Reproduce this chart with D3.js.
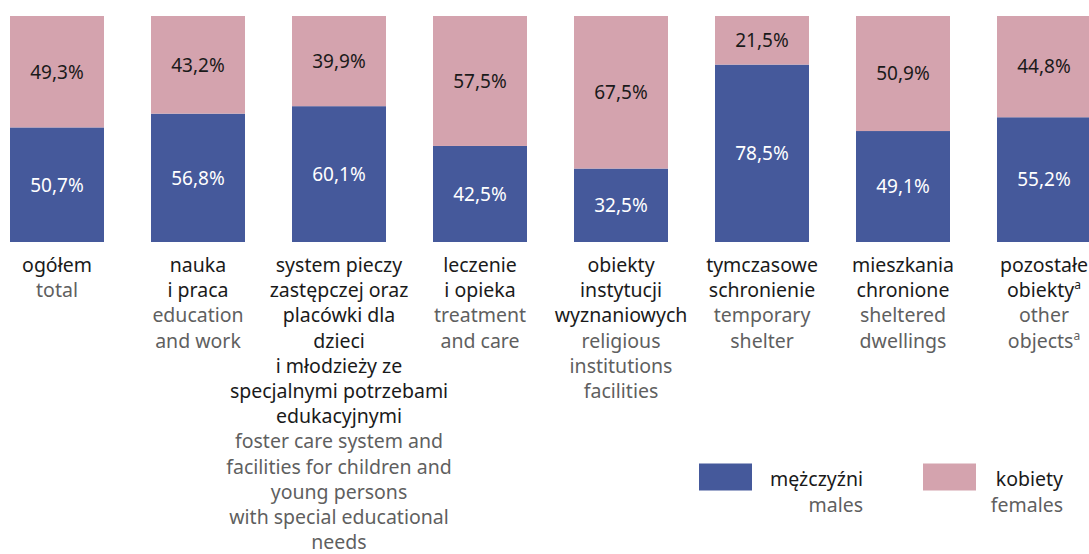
<!DOCTYPE html>
<html>
<head>
<meta charset="utf-8">
<script src="https://cdn.jsdelivr.net/npm/d3@7"></script>
<style>
  body { margin: 0; background: #fff; }
  text { font-family: "Noto Sans", sans-serif; }
</style>
</head>
<body>
<div id="chart"></div>
<script>
// Category labels (Polish lines, English lines)
const categoriesPl = [
  ["ogółem"],
  ["nauka", "i praca"],
  ["system pieczy", "zastępczej oraz", "placówki dla", "dzieci", "i młodzieży ze", "specjalnymi potrzebami", "edukacyjnymi"],
  ["leczenie", "i opieka"],
  ["obiekty", "instytucji", "wyznaniowych"],
  ["tymczasowe", "schronienie"],
  ["mieszkania", "chronione"],
  ["pozostałe", "obiekty|a"]
];
const categoriesEn = [
  ["total"],
  ["education", "and work"],
  ["foster care system and", "facilities for children and", "young persons", "with special educational", "needs"],
  ["treatment", "and care"],
  ["religious", "institutions", "facilities"],
  ["temporary", "shelter"],
  ["sheltered", "dwellings"],
  ["other", "objects|a"]
];

// Series values (%)
const males   = [50.7, 56.8, 60.1, 42.5, 32.5, 78.5, 49.1, 55.2];
const females = [49.3, 43.2, 39.9, 57.5, 67.5, 21.5, 50.9, 44.8];

const seriesNames = [
  { pl: "mężczyźni", en: "males" },
  { pl: "kobiety", en: "females" }
];

const width = 1089;
const height = 554;
const blue = "#45599b";
const pink = "#d4a3ae";
const dark = "#1a1a1a";
const grey = "#5f5f5f";

const svg = d3.select("#chart")
  .append("svg")
    .attr("width", width)
    .attr("height", height);

const idx = d3.range(males.length);

const x = d3.scaleBand()
    .domain(idx)
    .range([10, 1091])
    .paddingInner(1 / 3)
    .paddingOuter(0);

const y = d3.scaleLinear()
    .domain([0, 100])
    .range([242, 16]);

// stack the two series
const rows = idx.map(i => ({ i, m: males[i], f: females[i] }));
const stacked = d3.stack().keys(["m", "f"])(rows);
const colors = { m: blue, f: pink };

const layer = svg.append("g")
  .selectAll("g")
  .data(stacked)
  .enter().append("g")
    .attr("fill", d => colors[d.key]);

layer.selectAll("rect")
  .data(d => d)
  .enter().append("rect")
    .attr("x", d => x(d.data.i))
    .attr("width", x.bandwidth())
    .attr("y", d => y(d[1]))
    .attr("height", d => y(d[0]) - y(d[1]));

// value labels
layer.selectAll("text")
  .data(d => d.map(v => Object.assign({ key: d.key }, v)))
  .enter().append("text")
    .attr("x", d => x(d.data.i) + x.bandwidth() / 2)
    .attr("y", d => (y(d[0]) + y(d[1])) / 2)
    .attr("dy", "0.36em")
    .attr("text-anchor", "middle")
    .attr("font-size", 19)
    .attr("fill", d => d.key === "m" ? "#ffffff" : dark)
    .text(d => d3.format(".1f")(d[1] - d[0]).replace(".", ",") + "%");

// write a line with an optional superscript after "|"
function writeLine(sel, str) {
  const parts = str.split("|");
  sel.append("tspan").text(parts[0]);
  if (parts[1]) {
    sel.append("tspan")
      .attr("font-size", 12)
      .attr("dy", -8)
      .text(parts[1]);
  }
}

// category labels
const lineH = 25.2;
const label = svg.append("g")
  .selectAll("g")
  .data(idx)
  .enter().append("g")
    .attr("transform", i => `translate(${x(i) + x.bandwidth() / 2},272)`);

label.each(function(i) {
  const g = d3.select(this);
  const lines = categoriesPl[i].map(t => ({ t, c: dark }))
    .concat(categoriesEn[i].map(t => ({ t, c: grey })));
  lines.forEach((ln, k) => {
    const t = g.append("text")
      .attr("y", k * lineH)
      .attr("text-anchor", "middle")
      .attr("font-size", 19.5)
      .attr("fill", ln.c);
    writeLine(t, ln.t);
  });
});

// legend
const legendX = [699, 923];
const legendTextX = [863, 1063];
const legend = svg.append("g")
  .selectAll("g")
  .data(seriesNames)
  .enter().append("g");

legend.append("rect")
    .attr("x", (d, k) => legendX[k])
    .attr("y", 463.5)
    .attr("width", 53)
    .attr("height", 27)
    .attr("fill", (d, k) => k === 0 ? blue : pink);

legend.append("text")
    .attr("x", (d, k) => legendTextX[k])
    .attr("y", 486)
    .attr("text-anchor", "end")
    .attr("font-size", 19.5)
    .attr("fill", dark)
    .text(d => d.pl);

legend.append("text")
    .attr("x", (d, k) => legendTextX[k])
    .attr("y", 512)
    .attr("text-anchor", "end")
    .attr("font-size", 19.5)
    .attr("fill", grey)
    .text(d => d.en);
</script>
</body>
</html>
